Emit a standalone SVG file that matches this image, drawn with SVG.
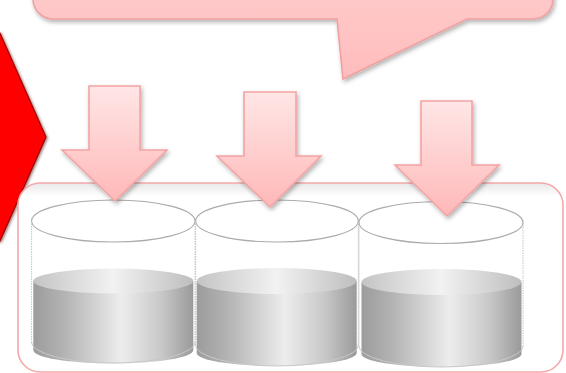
<svg xmlns="http://www.w3.org/2000/svg" width="566" height="373" viewBox="0 0 566 373">
<defs>
<linearGradient id="arrowG" x1="0" y1="0" x2="0" y2="1">
<stop offset="0" stop-color="#FFE6E6"/>
<stop offset="1" stop-color="#FFB8B8"/>
</linearGradient>
<linearGradient id="calloutG" x1="0" y1="0" x2="0" y2="1">
<stop offset="0" stop-color="#FFCDCD"/>
<stop offset="1" stop-color="#FFBCBC"/>
</linearGradient>
<linearGradient id="boxG" x1="0" y1="0" x2="0" y2="1">
<stop offset="0" stop-color="#E8E8E8"/>
<stop offset="0.07" stop-color="#FFFFFF"/>
<stop offset="1" stop-color="#FFFFFF"/>
</linearGradient>
<linearGradient id="liqSide" x1="0" y1="0" x2="1" y2="0">
<stop offset="0" stop-color="#9C9C9C"/>
<stop offset="0.2" stop-color="#B4B4B4"/>
<stop offset="0.55" stop-color="#EDEDED"/>
<stop offset="0.8" stop-color="#C8C8C8"/>
<stop offset="1" stop-color="#9A9A9A"/>
</linearGradient>
<linearGradient id="liqTop" x1="0" y1="0" x2="1" y2="0">
<stop offset="0" stop-color="#C4C4C4"/>
<stop offset="0.5" stop-color="#F2F2F2"/>
<stop offset="1" stop-color="#BEBEBE"/>
</linearGradient>
<filter id="shadow" x="-10%" y="-10%" width="130%" height="140%">
<feDropShadow dx="1.5" dy="2.5" stdDeviation="2" flood-color="#000" flood-opacity="0.3"/>
</filter>
<filter id="redShadow" x="-20%" y="-10%" width="150%" height="130%">
<feDropShadow dx="1" dy="1" stdDeviation="1.5" flood-color="#400000" flood-opacity="0.6"/>
</filter>
</defs>
<style>
.arrow{fill:url(#arrowG);stroke:#F4A3A3;stroke-width:1.6;filter:url(#shadow)}
.glass{fill:none;stroke:#ABABAB;stroke-width:1.1}
.glassSide{stroke:#C4C4C4;stroke-width:1;stroke-dasharray:1.5 1}
.liqSide{fill:url(#liqSide)}
.liqTop{fill:url(#liqTop)}
</style>
<rect width="566" height="373" fill="#FFFFFF"/>

<g id="red-chevron">
<polygon points="-6,33 0,33 46,137 0,241 -6,241" fill="#FF0000" stroke="#A00000" stroke-width="1.2" filter="url(#redShadow)"/>
</g>

<g id="callout">
<path d="M33,-30 V-1 A20,20 0 0 0 53,19 H337 L343,79 L467,19 H533 A20,20 0 0 0 553,-1 V-30 Z" fill="url(#calloutG)" stroke="#F0A0A0" stroke-width="1.6" filter="url(#shadow)"/>
</g>

<g id="container">
<rect x="18" y="183" width="545" height="189" rx="22" ry="22" fill="url(#boxG)" stroke="#F5A8A8" stroke-width="1.6"/>
</g>

<g id="cylinder-1">
<path class="liqSide" d="M33.3,281 V350 A80,13.5 0 0 0 193.3,350 V281 Z"/>
<ellipse class="liqTop" cx="113.3" cy="281" rx="80" ry="12.5"/>
<ellipse class="glass" cx="113.3" cy="221" rx="81.7" ry="21"/>
<line class="glassSide" x1="31.6" y1="221" x2="31.6" y2="342"/>
<line class="glassSide" x1="195" y1="221" x2="195" y2="342"/>
<path d="M31.6,342 A81.7,21 0 0 0 195,342" fill="none" stroke="#C8C8C8" stroke-width="1"/>
</g>

<g id="cylinder-2">
<path class="liqSide" d="M196.7,281 V353 A80,13 0 0 0 356.7,353 V281 Z"/>
<ellipse class="liqTop" cx="276.7" cy="281" rx="80" ry="13"/>
<ellipse class="glass" cx="277" cy="221" rx="81.3" ry="21"/>
<line class="glassSide" x1="195.7" y1="221" x2="195.7" y2="345"/>
<line class="glassSide" x1="358.3" y1="221" x2="358.3" y2="345"/>
<path d="M195.7,345 A81.3,21 0 0 0 358.3,345" fill="none" stroke="#C8C8C8" stroke-width="1"/>
</g>

<g id="cylinder-3">
<path class="liqSide" d="M361.5,282 V354 A80,13 0 0 0 521.5,354 V282 Z"/>
<ellipse class="liqTop" cx="441.5" cy="282" rx="80" ry="13"/>
<ellipse class="glass" cx="441" cy="222.5" rx="82" ry="21"/>
<line class="glassSide" x1="359" y1="222.5" x2="359" y2="346"/>
<line class="glassSide" x1="523" y1="222.5" x2="523" y2="346"/>
<path d="M359,346 A82,21 0 0 0 523,346" fill="none" stroke="#C8C8C8" stroke-width="1"/>
</g>

<g id="connectors">
<polygon class="arrow" points="89,86 140,86 140,150 167,150 115,201 62,150 89,150"/>
<polygon class="arrow" points="244,92 296,92 296,156 321,156 270,207 217,156 244,156"/>
<polygon class="arrow" points="421,101 472,101 472,165 499,165 447,216 395,165 421,165"/>
</g>
</svg>
